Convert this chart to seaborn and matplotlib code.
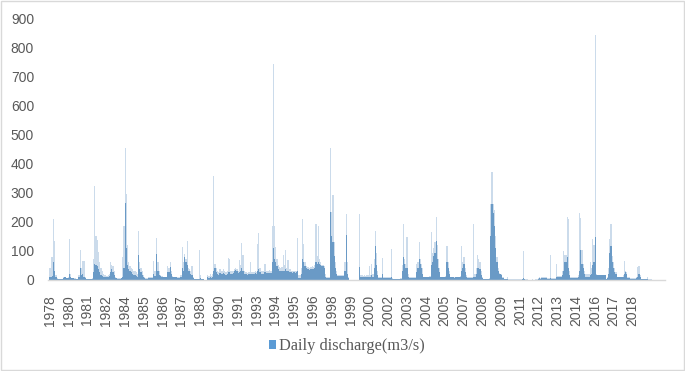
import numpy as np
import pandas as pd
import seaborn as sns
import matplotlib.pyplot as plt
from matplotlib.patches import Patch, Rectangle

# Monthly readings from Nov 1978 on (one line = Nov..Oct)
# peak = highest daily flow of the month, base = usual flow of the month
peak = [
    40, 77, 79, 207, 131, 15, 4, 3, 2, 2, 3, 8,
    10, 9, 6, 8, 138, 20, 6, 5, 4, 4, 3, 3,
    15, 103, 40, 65, 65, 10, 3, 2, 2, 1, 2, 5,
    70, 322, 150, 135, 95, 60, 40, 30, 20, 15, 14, 12,
    15, 20, 60, 50, 45, 30, 10, 6, 5, 4, 5, 6,
    79, 183, 454, 295, 120, 60, 45, 40, 35, 30, 30, 25,
    20, 167, 60, 40, 30, 15, 10, 5, 5, 8, 8, 8,
    10, 63, 30, 30, 144, 60, 30, 14, 12, 12, 10, 10,
    10, 48, 40, 60, 30, 12, 10, 10, 10, 8, 8, 8,
    15, 111, 60, 88, 70, 131, 40, 35, 30, 45, 10, 3,
    3, 2, 3, 100, 15, 3, 2, 0, 0, 0, 15, 12,
    18, 12, 20, 355, 54, 40, 30, 25, 35, 30, 28, 35,
    30, 25, 30, 75, 69, 30, 30, 28, 37, 40, 35, 30,
    66, 50, 125, 83, 30, 25, 25, 22, 25, 60, 25, 25,
    25, 28, 25, 121, 160, 40, 30, 30, 28, 52, 30, 30,
    30, 32, 30, 186, 743, 183, 111, 71, 50, 43, 40, 43,
    83, 50, 100, 40, 66, 35, 35, 31, 30, 31, 30, 31,
    144, 15, 15, 40, 207, 123, 60, 45, 43, 43, 40, 43,
    45, 43, 50, 192, 80, 183, 70, 60, 50, 50, 48, 20,
    10, 10, 10, 454, 234, 290, 129, 60, 30, 14, 14, 14,
    14, 14, 14, 60, 224, 60, 10, 0, 0, 0, 0, 0,
    0, 0, 0, 224, 14, 14, 12, 14, 12, 14, 14, 48,
    14, 54, 20, 70, 167, 90, 30, 10, 10, 10, 75, 10,
    10, 10, 8, 10, 10, 106, 5, 3, 3, 3, 3, 3,
    3, 5, 50, 190, 70, 54, 148, 20, 8, 8, 8, 8,
    8, 8, 52, 60, 129, 70, 54, 40, 10, 10, 10, 10,
    10, 12, 163, 90, 110, 130, 217, 120, 70, 40, 10, 10,
    10, 10, 12, 114, 60, 30, 10, 10, 10, 8, 10, 10,
    10, 10, 12, 114, 60, 77, 40, 15, 10, 10, 8, 10,
    10, 192, 20, 40, 83, 71, 60, 30, 8, 3, 3, 3,
    3, 3, 5, 261, 372, 260, 238, 150, 77, 40, 22, 20,
    18, 10, 2, 2, 2, 10, 1, 1, 1, 1, 1, 1,
    1, 1, 1, 1, 1, 2, 98, 3, 1, 1, 0, 0,
    0, 1, 0, 0, 1, 1, 5, 8, 6, 8, 10, 8,
    8, 8, 6, 5, 83, 5, 4, 5, 4, 52, 12, 12,
    12, 12, 30, 98, 83, 83, 217, 209, 30, 10, 10, 10,
    10, 10, 10, 15, 229, 213, 100, 54, 31, 20, 20, 20,
    20, 60, 40, 140, 120, 843, 20, 17, 17, 17, 17, 17,
    17, 17, 2, 10, 40, 140, 190, 80, 60, 40, 25, 10,
    10, 10, 10, 10, 15, 63, 28, 25, 10, 10, 5, 5,
    5, 5, 5, 10, 43, 48, 14, 3, 3, 2, 2, 2,
    8, 1, 2, 1,
]
base = [
    8, 10, 12, 60, 30, 8, 3, 2, 1, 1, 2, 6,
    8, 7, 5, 6, 20, 8, 5, 4, 3, 3, 2, 2,
    8, 40, 15, 20, 10, 5, 2, 1, 1, 1, 1, 3,
    25, 55, 50, 45, 35, 25, 15, 12, 10, 8, 10, 10,
    10, 12, 25, 35, 25, 15, 6, 4, 3, 3, 3, 4,
    10, 40, 265, 110, 50, 37, 30, 25, 20, 15, 15, 12,
    10, 83, 37, 25, 15, 10, 5, 3, 3, 6, 6, 6,
    6, 20, 12, 12, 88, 30, 15, 11, 10, 10, 8, 8,
    8, 25, 25, 43, 20, 10, 8, 8, 8, 6, 6, 6,
    10, 40, 30, 77, 60, 50, 31, 28, 20, 15, 5, 1,
    1, 1, 1, 3, 5, 1, 1, 0, 0, 0, 8, 6,
    8, 6, 10, 30, 40, 25, 18, 15, 22, 20, 18, 22,
    20, 15, 20, 25, 25, 20, 20, 22, 30, 32, 28, 22,
    25, 30, 40, 30, 20, 18, 18, 15, 18, 20, 20, 20,
    20, 22, 20, 30, 35, 25, 20, 20, 18, 25, 22, 22,
    22, 24, 22, 60, 110, 71, 60, 45, 35, 30, 28, 30,
    30, 30, 35, 30, 30, 25, 25, 25, 24, 25, 24, 25,
    30, 5, 5, 20, 71, 60, 45, 38, 35, 35, 33, 35,
    35, 35, 40, 60, 55, 60, 55, 50, 45, 45, 40, 10,
    5, 5, 5, 234, 150, 129, 80, 40, 20, 12, 12, 12,
    12, 12, 12, 30, 152, 20, 5, 0, 0, 0, 0, 0,
    0, 0, 0, 43, 10, 10, 8, 10, 8, 10, 10, 10,
    10, 15, 10, 40, 117, 50, 15, 5, 5, 5, 20, 5,
    5, 5, 4, 5, 5, 10, 3, 2, 2, 2, 2, 2,
    2, 3, 30, 77, 54, 40, 40, 10, 5, 5, 5, 5,
    5, 5, 25, 40, 71, 54, 40, 20, 8, 8, 8, 8,
    8, 8, 50, 60, 80, 90, 134, 70, 40, 25, 8, 8,
    8, 8, 8, 60, 40, 20, 8, 8, 8, 6, 8, 8,
    8, 8, 8, 30, 40, 54, 25, 8, 5, 5, 4, 5,
    5, 10, 10, 20, 40, 40, 35, 15, 4, 2, 2, 2,
    2, 2, 3, 150, 260, 230, 186, 110, 60, 30, 20, 18,
    15, 5, 1, 1, 1, 2, 0, 0, 0, 0, 0, 0,
    0, 0, 0, 0, 0, 1, 5, 1, 0, 0, 0, 0,
    0, 0, 0, 0, 0, 0, 3, 4, 3, 4, 6, 4,
    4, 4, 3, 2, 5, 2, 2, 2, 2, 10, 10, 10,
    10, 10, 15, 30, 60, 60, 77, 40, 15, 5, 5, 5,
    5, 5, 5, 8, 30, 100, 54, 40, 20, 10, 10, 10,
    10, 15, 20, 50, 60, 146, 15, 15, 15, 15, 15, 15,
    15, 15, 1, 5, 20, 90, 117, 60, 40, 25, 20, 8,
    8, 8, 8, 8, 10, 20, 25, 20, 5, 5, 3, 3,
    3, 3, 3, 5, 10, 20, 10, 1, 1, 1, 1, 1,
    2, 0, 0, 0,
]

# year labels shown under the axis (Excel shows one every 471 rows)
year_labels = ['1978', '1980', '1981', '1982', '1984', '1985', '1986', '1987',
               '1989', '1990', '1991', '1993', '1994', '1995', '1996', '1998',
               '1999', '2000', '2002', '2003', '2004', '2005', '2007', '2008',
               '2009', '2011', '2012', '2013', '2014', '2016', '2017', '2018']

df = pd.DataFrame({
    'month': pd.period_range('1978-11', periods=len(peak), freq='M'),
    'peak': peak,
    'base': base,
})
df['x'] = np.arange(len(df))

blue = '#5B9BD5'
fig = plt.figure(figsize=(6.85, 3.71), dpi=100)
ax = fig.add_axes([0.070, 0.2466, 0.901, 0.7041])

sns.barplot(data=df, x='x', y='peak', native_scale=True, width=1.0,
            color=blue, alpha=0.35, linewidth=0, errorbar=None, ax=ax)
sns.barplot(data=df, x='x', y='base', native_scale=True, width=1.0,
            color=blue, linewidth=0, errorbar=None, ax=ax)

ax.set_ylim(0, 900)
ax.set_yticks(range(0, 901, 100))
ax.set_xlim(-1.6, 506.5)
step = 471 / 30.44
ax.set_xticks(np.arange(len(year_labels)) * step)
ax.set_xticklabels(year_labels, rotation=90)
ax.set_xlabel('')
ax.set_ylabel('')
ax.tick_params(length=0, labelsize=10, labelcolor='#595959')
ax.tick_params(axis='x', pad=11)
ax.tick_params(axis='y', pad=10)
for lab in ax.get_xticklabels() + ax.get_yticklabels():
    lab.set_family('Liberation Sans')
for s in ['top', 'right', 'left']:
    ax.spines[s].set_visible(False)
ax.spines['bottom'].set_color('#D9D9D9')
ax.spines['bottom'].set_linewidth(1)
ax.set_facecolor('white')

handle = Patch(facecolor=blue, edgecolor='none')
fig.legend([handle], ['Daily discharge(m3/s)'], loc='center',
           bbox_to_anchor=(0.506, 0.067), frameon=False,
           prop={'family': 'Liberation Serif', 'size': 11.8},
           handlelength=0.42, handleheight=0.42, handletextpad=0.2,
           labelcolor='#595959')

fig.patches.append(Rectangle((0.001, 0.002), 0.997, 0.995, transform=fig.transFigure,
                             fill=False, edgecolor='#D9D9D9', linewidth=1))

fig.savefig('out.png', dpi=100, facecolor='white')
